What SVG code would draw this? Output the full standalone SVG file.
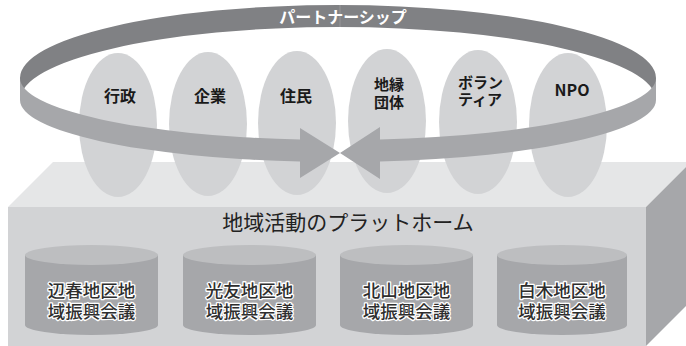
<svg xmlns="http://www.w3.org/2000/svg" width="686" height="346" viewBox="0 0 686 346">
<style>
.jp{font-family:"Noto Sans CJK JP","Noto Sans",sans-serif}
.node{fill:#d2d3d5}
.lbl{font-size:16px;font-weight:bold;fill:#1a1a1a;text-anchor:middle}
.lbl2{font-size:15px;font-weight:bold;fill:#1a1a1a;text-anchor:middle}
.cylbody{fill:#a6a7aa}
.cyltop{fill:#bdbec0}
.cyltxt{font-size:17.5px;font-weight:500;fill:#2e2e2e;stroke:#ffffff;stroke-width:2.6px;stroke-linejoin:round;paint-order:stroke;text-anchor:middle}
</style>
<rect width="686" height="346" fill="#ffffff"/>
<g id="platform">
  <polygon points="53,162 691,162 646,207 8,207" fill="#e5e6e7"/>
  <polygon points="646,207 691,162 691,301 646,346" fill="#a6a7aa"/>
  <rect x="8" y="207" width="638" height="139" fill="#d2d3d5"/>
  <text class="jp" x="348" y="230" font-size="21" fill="#222" text-anchor="middle">地域活動のプラットホーム</text>
</g>
<g id="node-gyosei"><ellipse class="node" cx="118" cy="125" rx="39" ry="72"/><text class="jp lbl" x="120" y="102">行政</text></g>
<g id="node-kigyo"><ellipse class="node" cx="208" cy="124" rx="39" ry="72"/><text class="jp lbl" x="210" y="102">企業</text></g>
<g id="node-jumin"><ellipse class="node" cx="297" cy="123" rx="39" ry="72"/><text class="jp lbl" x="296" y="102">住民</text></g>
<g id="node-chien"><ellipse class="node" cx="387" cy="121" rx="39" ry="72"/><text class="jp lbl2" x="389" y="90">地縁</text><text class="jp lbl2" x="389" y="108">団体</text></g>
<g id="node-volunteer"><ellipse class="node" cx="478" cy="122" rx="39" ry="72"/><text class="jp lbl2" x="458" y="88" style="text-anchor:start">ボラン</text><text class="jp lbl2" x="458" y="105" style="text-anchor:start">ティア</text></g>
<g id="node-npo"><ellipse class="node" cx="568" cy="125" rx="39" ry="72"/><text class="jp lbl" x="572" y="96">NPO</text></g>
<g id="connectors">
  <path d="M20,78 A318,73 0 0 1 656,78 L656,100 A318,73 0 0 0 20,100 Z" fill="#808184"/>
  <line x1="340" y1="5" x2="340" y2="27" stroke="#9c9da0" stroke-width="0.8"/>
  <text class="jp" x="343" y="23" font-size="16" font-weight="bold" fill="#ffffff" text-anchor="middle">パートナーシップ</text>
  <path d="M20,78 A318,62 0 0 0 300,139.56 L300,128 L340,153 L300,178 L300,161.56 A318,62 0 0 1 20,100 Z" fill="#a6a7aa"/>
  <path d="M656,78 A318,62 0 0 1 380,139.46 L380,127 L340,153 L380,179 L380,161.46 A318,62 0 0 0 656,100 Z" fill="#a6a7aa"/>
</g>
<g id="cyl-hesaru">
  <path class="cylbody" d="M25,255 L25,325 A66.5,10 0 0 0 158,325 L158,255 Z"/>
  <ellipse class="cyltop" cx="91.5" cy="255" rx="66.5" ry="10"/>
  <text class="jp cyltxt" x="91.5" y="296.5">辺春地区地</text><text class="jp cyltxt" x="91.5" y="317.5">域振興会議</text>
</g>
<g id="cyl-mitsutomo">
  <path class="cylbody" d="M183,255 L183,325 A66.5,10 0 0 0 316,325 L316,255 Z"/>
  <ellipse class="cyltop" cx="249.5" cy="255" rx="66.5" ry="10"/>
  <text class="jp cyltxt" x="249.5" y="296.5">光友地区地</text><text class="jp cyltxt" x="249.5" y="317.5">域振興会議</text>
</g>
<g id="cyl-kitayama">
  <path class="cylbody" d="M340,255 L340,325 A66.5,10 0 0 0 473,325 L473,255 Z"/>
  <ellipse class="cyltop" cx="406.5" cy="255" rx="66.5" ry="10"/>
  <text class="jp cyltxt" x="406.5" y="296.5">北山地区地</text><text class="jp cyltxt" x="406.5" y="317.5">域振興会議</text>
</g>
<g id="cyl-shiraki">
  <path class="cylbody" d="M497,255 L497,325 A65,10 0 0 0 627,325 L627,255 Z"/>
  <ellipse class="cyltop" cx="562" cy="255" rx="65" ry="10"/>
  <text class="jp cyltxt" x="562" y="296.5">白木地区地</text><text class="jp cyltxt" x="562" y="317.5">域振興会議</text>
</g>
</svg>
